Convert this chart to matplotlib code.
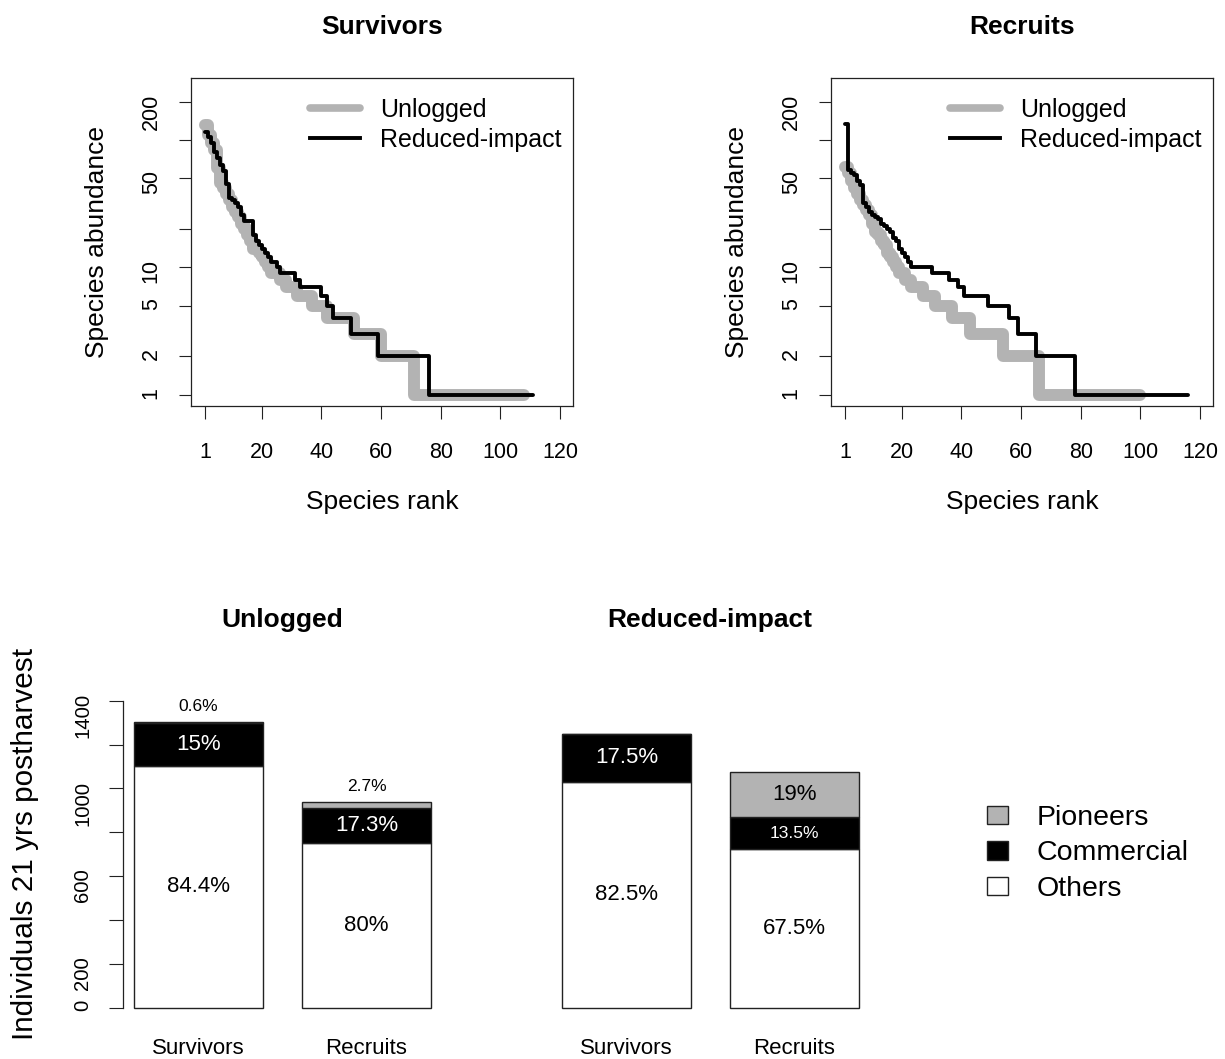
import numpy as np
import matplotlib
matplotlib.use("Agg")
import matplotlib.pyplot as plt
from matplotlib.lines import Line2D
from matplotlib.patches import Patch
from matplotlib.ticker import NullLocator

plt.rcParams['font.family'] = ['Liberation Sans', 'DejaVu Sans']

# ---- rank-abundance data (abundance per species, sorted by rank) ----
# head = individually read values, then (level, number of species) runs
surv_unl_head = [131, 110, 95, 84, 60, 46, 42, 38, 34, 30, 27, 25, 22, 20, 18,
                 16, 14, 14, 13, 12, 11, 10, 9, 9, 9]
surv_unl_levels = [8, 7, 6, 5, 4, 3, 2, 1]
surv_unl_counts = [2, 4, 5, 5, 9, 9, 11, 38]

surv_ril_head = [116, 106, 95, 80, 72, 64, 57, 45, 35, 34, 32, 30, 26, 23, 23,
                 23, 18, 16, 15, 14, 13, 12, 11, 11, 10]
surv_ril_levels = [9, 8, 7, 6, 5, 4, 3, 2, 1]
surv_ril_counts = [5, 2, 7, 2, 2, 6, 9, 17, 36]

recr_unl_head = [62, 55, 48, 42, 38, 34, 31, 28, 26, 22, 19, 18, 16, 15, 13,
                 12, 11, 10]
recr_unl_levels = [9, 8, 7, 6, 5, 4, 3, 2, 1]
recr_unl_counts = [2, 2, 4, 4, 6, 6, 11, 12, 35]

recr_ril_head = [134, 58, 55, 53, 48, 44, 32, 30, 27, 26, 25, 24, 22, 21, 20,
                 19, 17, 16, 14, 13, 12, 11]
recr_ril_levels = [10, 9, 8, 7, 6, 5, 4, 3, 2, 1]
recr_ril_counts = [7, 6, 3, 2, 8, 7, 3, 6, 13, 39]

rank_ticks = [1, 20, 40, 60, 80, 100, 120]
abund_ticks = [1, 2, 5, 10, 20, 50, 100, 200]
abund_labels = ['1', '2', '5', '10', '', '50', '', '200']

# ---- composition data (individuals 21 yrs postharvest) ----
bar_cats = ['Survivors', 'Recruits']
others_unl = [1101, 750]
comm_unl = [196, 162]
pion_unl = [8, 25]
others_ril = [1030, 724]
comm_ril = [218, 145]
pion_ril = [0, 204]
others_unl_lab = ['84.4%', '80%']
comm_unl_lab = ['15%', '17.3%']
pion_unl_lab = ['0.6%', '2.7%']
others_ril_lab = ['82.5%', '67.5%']
comm_ril_lab = ['17.5%', '13.5%']
pion_ril_lab = ['', '19%']

GREY = '#b3b3b3'
EDGE = '#222222'

W, H = 1225, 1059
fig = plt.figure(figsize=(W / 100, H / 100), dpi=100)


def add_ax(x0, y0, x1, y1):
    return fig.add_axes([x0 / W, 1 - y1 / H, (x1 - x0) / W, (y1 - y0) / H])


def expand(head, levels, counts):
    return np.concatenate([head, np.repeat(levels, counts)])


panels = [
    (add_ax(191, 77.7, 573, 406), 'Survivors',
     expand(surv_unl_head, surv_unl_levels, surv_unl_counts),
     expand(surv_ril_head, surv_ril_levels, surv_ril_counts)),
    (add_ax(831, 77.7, 1213, 406), 'Recruits',
     expand(recr_unl_head, recr_unl_levels, recr_unl_counts),
     expand(recr_ril_head, recr_ril_levels, recr_ril_counts)),
]

leg_handles = [Line2D([], [], color=GREY, lw=5.5, solid_capstyle='round'),
               Line2D([], [], color='black', lw=2.8)]

for ax, title, unl, ril in panels:
    ax.plot(np.arange(1, len(unl) + 1), unl, drawstyle='steps-post', color=GREY,
            lw=8.6, solid_capstyle='round', solid_joinstyle='round')
    ax.plot(np.arange(1, len(ril) + 1), ril, drawstyle='steps-post', color='black',
            lw=2.8, solid_capstyle='round')
    ax.set_yscale('log')
    ax.set_ylim(10 ** -0.0888, 10 ** 2.49)
    ax.set_xlim(-3.70, 124.36)
    ax.set_yticks(abund_ticks)
    ax.set_yticklabels(abund_labels)
    ax.yaxis.set_minor_locator(NullLocator())
    ax.set_xticks(rank_ticks)
    ax.tick_params(axis='both', length=9, width=0.8, color=EDGE, labelsize=15.5)
    ax.tick_params(axis='y', labelrotation=90, pad=12)
    ax.tick_params(axis='x', pad=17)
    for s in ax.spines.values():
        s.set_linewidth(0.9)
        s.set_color(EDGE)
    ax.set_xlabel('Species rank', fontsize=19, labelpad=19)
    ax.set_ylabel('Species abundance', fontsize=19, labelpad=23)
    ax.set_title(title, fontsize=19, fontweight='bold', pad=31.5)
    ax.legend(leg_handles, ['Unlogged', 'Reduced-impact'], loc='upper right',
              bbox_to_anchor=(1.024, 1), frameon=False, fontsize=18,
              handlelength=2.0, handletextpad=0.8, labelspacing=0.23,
              borderaxespad=0.62, borderpad=0.2)

# ---- bottom bar panels ----
bar_w = 0.768
xpos = np.arange(len(bar_cats))
bar_panels = [
    (add_ax(123, 688.4, 441, 1020), 'Unlogged', others_unl, comm_unl, pion_unl,
     others_unl_lab, comm_unl_lab, pion_unl_lab),
    (add_ax(551, 688.4, 869, 1020), 'Reduced-impact', others_ril, comm_ril, pion_ril,
     others_ril_lab, comm_ril_lab, pion_ril_lab),
]

for i, (ax, title, oth, com, pio, oth_l, com_l, pio_l) in enumerate(bar_panels):
    oth = np.array(oth)
    com = np.array(com)
    pio = np.array(pio)
    ax.bar(xpos, oth, width=bar_w, color='white', edgecolor=EDGE, lw=1)
    ax.bar(xpos, com, bottom=oth, width=bar_w, color='black', edgecolor=EDGE, lw=1)
    ax.bar(xpos, pio, bottom=oth + com, width=bar_w, color=GREY, edgecolor=EDGE, lw=1)
    for j in range(len(xpos)):
        ax.text(xpos[j], oth[j] / 2, oth_l[j], ha='center', va='center', fontsize=16)
        fs = 16 if com[j] >= 150 else 12.5
        ax.text(xpos[j], oth[j] + com[j] / 2, com_l[j], ha='center', va='center',
                fontsize=fs, color='white')
        if pio_l[j]:
            top = oth[j] + com[j] + pio[j]
            if pio[j] >= 100:
                ax.text(xpos[j], top - pio[j] / 2, pio_l[j], ha='center', va='center',
                        fontsize=16)
            else:
                ax.annotate(pio_l[j], (xpos[j], top), xytext=(0, 11),
                            textcoords='offset points', ha='center', va='center',
                            fontsize=12.5)
    ax.set_xlim(-0.449, 1.443)
    ax.set_ylim(-56, 1456)
    ax.set_xticks(xpos)
    ax.set_xticklabels(bar_cats, fontsize=16)
    ax.tick_params(axis='x', length=0, pad=13)
    for s in ['top', 'right', 'bottom']:
        ax.spines[s].set_visible(False)
    ax.set_title(title, fontsize=19, fontweight='bold', pad=44)
    if i == 0:
        ax.spines['left'].set_bounds(0, 1400)
        ax.spines['left'].set_linewidth(0.9)
        ax.spines['left'].set_color(EDGE)
        ax.set_yticks(np.arange(0, 1401, 200))
        ax.set_yticklabels(['0', '200', '', '600', '', '1000', '', '1400'])
        ax.tick_params(axis='y', length=10, width=0.8, color=EDGE, labelsize=14.6,
                       labelrotation=90, pad=12)
        ax.set_ylabel('Individuals 21 yrs postharvest', fontsize=21.4)
        ax.yaxis.set_label_coords(-0.264, 0.53)
    else:
        ax.spines['left'].set_visible(False)
        ax.set_yticks([])

fig.legend(handles=[Patch(facecolor=GREY, edgecolor=EDGE),
                    Patch(facecolor='black', edgecolor=EDGE),
                    Patch(facecolor='white', edgecolor=EDGE)],
           labels=['Pioneers', 'Commercial', 'Others'],
           loc='center left', bbox_to_anchor=(961 / W, 1 - 853.5 / H), frameon=False,
           fontsize=20.5, handlelength=0.75, handleheight=0.6, handletextpad=1.0,
           labelspacing=0.34)

fig.savefig('out.png', dpi=100)
